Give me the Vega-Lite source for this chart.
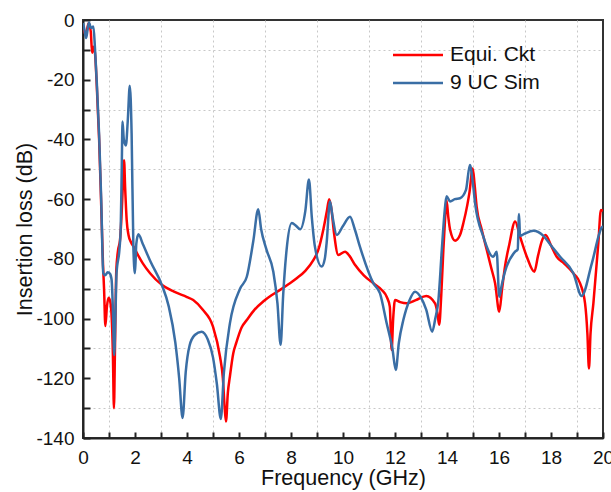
{
  "$schema": "https://vega.github.io/schema/vega-lite/v6.json",
  "width": 520,
  "height": 418,
  "autosize": {"type": "none"},
  "padding": {"left": 83, "top": 20, "right": 8, "bottom": 54},
  "background": "white",
  "config": {
    "font": "Liberation Sans",
    "view": {"stroke": "#333", "strokeWidth": 2},
    "axis": {
      "domainColor": "#222",
      "domainWidth": 2,
      "tickColor": "#222",
      "tickWidth": 2,
      "labelFontSize": 19,
      "labelColor": "#111",
      "labelFlush": false,
      "titleFontSize": 21.5,
      "titleFontWeight": "normal",
      "titleColor": "#111",
      "gridColor": "#c8c8c8",
      "gridDash": [2, 3],
      "gridWidth": 1
    }
  },
  "data": {
    "values": [
      {"s": "Equi. Ckt", "f": 0.0, "dB": -2},
      {"s": "Equi. Ckt", "f": 0.1, "dB": -5},
      {"s": "Equi. Ckt", "f": 0.22, "dB": -1},
      {"s": "Equi. Ckt", "f": 0.3, "dB": -4},
      {"s": "Equi. Ckt", "f": 0.35, "dB": -11},
      {"s": "Equi. Ckt", "f": 0.4, "dB": -9},
      {"s": "Equi. Ckt", "f": 0.46, "dB": -11},
      {"s": "Equi. Ckt", "f": 0.53, "dB": -22},
      {"s": "Equi. Ckt", "f": 0.62, "dB": -40},
      {"s": "Equi. Ckt", "f": 0.7, "dB": -62},
      {"s": "Equi. Ckt", "f": 0.77, "dB": -82},
      {"s": "Equi. Ckt", "f": 0.81, "dB": -90},
      {"s": "Equi. Ckt", "f": 0.86, "dB": -102.5},
      {"s": "Equi. Ckt", "f": 0.92, "dB": -96},
      {"s": "Equi. Ckt", "f": 0.98, "dB": -93},
      {"s": "Equi. Ckt", "f": 1.04, "dB": -94},
      {"s": "Equi. Ckt", "f": 1.1, "dB": -99},
      {"s": "Equi. Ckt", "f": 1.15, "dB": -112},
      {"s": "Equi. Ckt", "f": 1.19, "dB": -130},
      {"s": "Equi. Ckt", "f": 1.23, "dB": -110},
      {"s": "Equi. Ckt", "f": 1.28, "dB": -84},
      {"s": "Equi. Ckt", "f": 1.35, "dB": -77},
      {"s": "Equi. Ckt", "f": 1.42, "dB": -74},
      {"s": "Equi. Ckt", "f": 1.48, "dB": -66},
      {"s": "Equi. Ckt", "f": 1.53, "dB": -56},
      {"s": "Equi. Ckt", "f": 1.58, "dB": -47},
      {"s": "Equi. Ckt", "f": 1.62, "dB": -56},
      {"s": "Equi. Ckt", "f": 1.68, "dB": -67},
      {"s": "Equi. Ckt", "f": 1.75, "dB": -72},
      {"s": "Equi. Ckt", "f": 1.85, "dB": -74.5},
      {"s": "Equi. Ckt", "f": 1.95, "dB": -76},
      {"s": "Equi. Ckt", "f": 2.1, "dB": -78.5},
      {"s": "Equi. Ckt", "f": 2.3, "dB": -81.5},
      {"s": "Equi. Ckt", "f": 2.58, "dB": -84.8},
      {"s": "Equi. Ckt", "f": 3.03, "dB": -88.7},
      {"s": "Equi. Ckt", "f": 3.5, "dB": -91},
      {"s": "Equi. Ckt", "f": 4.0, "dB": -92.8},
      {"s": "Equi. Ckt", "f": 4.24, "dB": -93.8},
      {"s": "Equi. Ckt", "f": 4.6, "dB": -97},
      {"s": "Equi. Ckt", "f": 5.0, "dB": -102.7},
      {"s": "Equi. Ckt", "f": 5.27, "dB": -112.8},
      {"s": "Equi. Ckt", "f": 5.38, "dB": -120},
      {"s": "Equi. Ckt", "f": 5.45, "dB": -130},
      {"s": "Equi. Ckt", "f": 5.5, "dB": -134.5},
      {"s": "Equi. Ckt", "f": 5.57, "dB": -125},
      {"s": "Equi. Ckt", "f": 5.65, "dB": -119.4},
      {"s": "Equi. Ckt", "f": 5.78, "dB": -111.6},
      {"s": "Equi. Ckt", "f": 5.9, "dB": -108},
      {"s": "Equi. Ckt", "f": 6.1, "dB": -103},
      {"s": "Equi. Ckt", "f": 6.3, "dB": -100.5},
      {"s": "Equi. Ckt", "f": 6.6, "dB": -97},
      {"s": "Equi. Ckt", "f": 6.93, "dB": -94.3},
      {"s": "Equi. Ckt", "f": 7.25, "dB": -92.2},
      {"s": "Equi. Ckt", "f": 7.58, "dB": -90.4},
      {"s": "Equi. Ckt", "f": 7.9, "dB": -88.5},
      {"s": "Equi. Ckt", "f": 8.22, "dB": -86.5},
      {"s": "Equi. Ckt", "f": 8.55, "dB": -84},
      {"s": "Equi. Ckt", "f": 8.86, "dB": -80.4},
      {"s": "Equi. Ckt", "f": 9.05, "dB": -77},
      {"s": "Equi. Ckt", "f": 9.24, "dB": -70.3},
      {"s": "Equi. Ckt", "f": 9.38, "dB": -64},
      {"s": "Equi. Ckt", "f": 9.47, "dB": -60},
      {"s": "Equi. Ckt", "f": 9.55, "dB": -63},
      {"s": "Equi. Ckt", "f": 9.65, "dB": -71},
      {"s": "Equi. Ckt", "f": 9.82, "dB": -78.7},
      {"s": "Equi. Ckt", "f": 10.08, "dB": -77.6},
      {"s": "Equi. Ckt", "f": 10.25, "dB": -79},
      {"s": "Equi. Ckt", "f": 10.46, "dB": -82},
      {"s": "Equi. Ckt", "f": 10.8, "dB": -85.5},
      {"s": "Equi. Ckt", "f": 11.17, "dB": -88.2},
      {"s": "Equi. Ckt", "f": 11.5, "dB": -90.5},
      {"s": "Equi. Ckt", "f": 11.68, "dB": -92.7},
      {"s": "Equi. Ckt", "f": 11.8, "dB": -96},
      {"s": "Equi. Ckt", "f": 11.87, "dB": -110.5},
      {"s": "Equi. Ckt", "f": 11.93, "dB": -100},
      {"s": "Equi. Ckt", "f": 12.0, "dB": -93.8},
      {"s": "Equi. Ckt", "f": 12.2, "dB": -94.5},
      {"s": "Equi. Ckt", "f": 12.45, "dB": -94.9},
      {"s": "Equi. Ckt", "f": 12.8, "dB": -93.8},
      {"s": "Equi. Ckt", "f": 13.2, "dB": -92.4},
      {"s": "Equi. Ckt", "f": 13.54, "dB": -94.9},
      {"s": "Equi. Ckt", "f": 13.63, "dB": -98},
      {"s": "Equi. Ckt", "f": 13.7, "dB": -102.1},
      {"s": "Equi. Ckt", "f": 13.78, "dB": -92},
      {"s": "Equi. Ckt", "f": 13.86, "dB": -77},
      {"s": "Equi. Ckt", "f": 13.93, "dB": -66},
      {"s": "Equi. Ckt", "f": 13.98, "dB": -60.3},
      {"s": "Equi. Ckt", "f": 14.05, "dB": -66},
      {"s": "Equi. Ckt", "f": 14.12, "dB": -70.3},
      {"s": "Equi. Ckt", "f": 14.31, "dB": -73.9},
      {"s": "Equi. Ckt", "f": 14.5, "dB": -72},
      {"s": "Equi. Ckt", "f": 14.63, "dB": -68},
      {"s": "Equi. Ckt", "f": 14.78, "dB": -62},
      {"s": "Equi. Ckt", "f": 14.86, "dB": -58},
      {"s": "Equi. Ckt", "f": 14.99, "dB": -49.7},
      {"s": "Equi. Ckt", "f": 15.06, "dB": -55},
      {"s": "Equi. Ckt", "f": 15.14, "dB": -62.5},
      {"s": "Equi. Ckt", "f": 15.33, "dB": -70},
      {"s": "Equi. Ckt", "f": 15.53, "dB": -77},
      {"s": "Equi. Ckt", "f": 15.7, "dB": -83},
      {"s": "Equi. Ckt", "f": 15.85, "dB": -88.2},
      {"s": "Equi. Ckt", "f": 16.01, "dB": -97.7},
      {"s": "Equi. Ckt", "f": 16.12, "dB": -90},
      {"s": "Equi. Ckt", "f": 16.23, "dB": -82.6},
      {"s": "Equi. Ckt", "f": 16.4, "dB": -75},
      {"s": "Equi. Ckt", "f": 16.62, "dB": -67.5},
      {"s": "Equi. Ckt", "f": 16.81, "dB": -72.6},
      {"s": "Equi. Ckt", "f": 17.07, "dB": -79.3},
      {"s": "Equi. Ckt", "f": 17.36, "dB": -84.3},
      {"s": "Equi. Ckt", "f": 17.5, "dB": -79},
      {"s": "Equi. Ckt", "f": 17.64, "dB": -74.2},
      {"s": "Equi. Ckt", "f": 17.79, "dB": -72},
      {"s": "Equi. Ckt", "f": 18.0, "dB": -75.5},
      {"s": "Equi. Ckt", "f": 18.22, "dB": -79.3},
      {"s": "Equi. Ckt", "f": 18.5, "dB": -81.5},
      {"s": "Equi. Ckt", "f": 18.86, "dB": -84.8},
      {"s": "Equi. Ckt", "f": 19.12, "dB": -88.2},
      {"s": "Equi. Ckt", "f": 19.31, "dB": -94.9},
      {"s": "Equi. Ckt", "f": 19.4, "dB": -105},
      {"s": "Equi. Ckt", "f": 19.46, "dB": -116.7},
      {"s": "Equi. Ckt", "f": 19.52, "dB": -105},
      {"s": "Equi. Ckt", "f": 19.63, "dB": -94.9},
      {"s": "Equi. Ckt", "f": 19.82, "dB": -74.8},
      {"s": "Equi. Ckt", "f": 19.92, "dB": -63.6},
      {"s": "Equi. Ckt", "f": 20.0, "dB": -64},

      {"s": "9 UC Sim", "f": 0.0, "dB": -1},
      {"s": "9 UC Sim", "f": 0.05, "dB": -3},
      {"s": "9 UC Sim", "f": 0.12, "dB": -6},
      {"s": "9 UC Sim", "f": 0.18, "dB": -3},
      {"s": "9 UC Sim", "f": 0.23, "dB": -0.8},
      {"s": "9 UC Sim", "f": 0.31, "dB": -2.7},
      {"s": "9 UC Sim", "f": 0.4, "dB": -2.2},
      {"s": "9 UC Sim", "f": 0.46, "dB": -9.4},
      {"s": "9 UC Sim", "f": 0.53, "dB": -20.8},
      {"s": "9 UC Sim", "f": 0.62, "dB": -38.5},
      {"s": "9 UC Sim", "f": 0.7, "dB": -60},
      {"s": "9 UC Sim", "f": 0.78, "dB": -84.8},
      {"s": "9 UC Sim", "f": 0.85, "dB": -85.5},
      {"s": "9 UC Sim", "f": 0.95, "dB": -84.5},
      {"s": "9 UC Sim", "f": 1.04, "dB": -85},
      {"s": "9 UC Sim", "f": 1.1, "dB": -87},
      {"s": "9 UC Sim", "f": 1.15, "dB": -97},
      {"s": "9 UC Sim", "f": 1.2, "dB": -112.2},
      {"s": "9 UC Sim", "f": 1.25, "dB": -98},
      {"s": "9 UC Sim", "f": 1.29, "dB": -84.8},
      {"s": "9 UC Sim", "f": 1.4, "dB": -77},
      {"s": "9 UC Sim", "f": 1.45, "dB": -70},
      {"s": "9 UC Sim", "f": 1.49, "dB": -50},
      {"s": "9 UC Sim", "f": 1.52, "dB": -34},
      {"s": "9 UC Sim", "f": 1.57, "dB": -40},
      {"s": "9 UC Sim", "f": 1.65, "dB": -42},
      {"s": "9 UC Sim", "f": 1.72, "dB": -34},
      {"s": "9 UC Sim", "f": 1.8, "dB": -22},
      {"s": "9 UC Sim", "f": 1.87, "dB": -38},
      {"s": "9 UC Sim", "f": 1.94, "dB": -77},
      {"s": "9 UC Sim", "f": 2.0, "dB": -84.8},
      {"s": "9 UC Sim", "f": 2.05, "dB": -75},
      {"s": "9 UC Sim", "f": 2.13, "dB": -71.8},
      {"s": "9 UC Sim", "f": 2.3, "dB": -75},
      {"s": "9 UC Sim", "f": 2.6, "dB": -81},
      {"s": "9 UC Sim", "f": 3.03, "dB": -88.7},
      {"s": "9 UC Sim", "f": 3.3, "dB": -96},
      {"s": "9 UC Sim", "f": 3.55, "dB": -108},
      {"s": "9 UC Sim", "f": 3.7, "dB": -120},
      {"s": "9 UC Sim", "f": 3.83, "dB": -133.3},
      {"s": "9 UC Sim", "f": 3.95, "dB": -118},
      {"s": "9 UC Sim", "f": 4.1, "dB": -109},
      {"s": "9 UC Sim", "f": 4.3, "dB": -105.5},
      {"s": "9 UC Sim", "f": 4.56, "dB": -104.4},
      {"s": "9 UC Sim", "f": 4.8, "dB": -107},
      {"s": "9 UC Sim", "f": 5.0, "dB": -113},
      {"s": "9 UC Sim", "f": 5.15, "dB": -122},
      {"s": "9 UC Sim", "f": 5.3, "dB": -133.6},
      {"s": "9 UC Sim", "f": 5.42, "dB": -118},
      {"s": "9 UC Sim", "f": 5.65, "dB": -101.6},
      {"s": "9 UC Sim", "f": 6.04, "dB": -90},
      {"s": "9 UC Sim", "f": 6.3, "dB": -86},
      {"s": "9 UC Sim", "f": 6.55, "dB": -74},
      {"s": "9 UC Sim", "f": 6.74, "dB": -63.4},
      {"s": "9 UC Sim", "f": 6.85, "dB": -70},
      {"s": "9 UC Sim", "f": 7.06, "dB": -77},
      {"s": "9 UC Sim", "f": 7.32, "dB": -84.3},
      {"s": "9 UC Sim", "f": 7.48, "dB": -95},
      {"s": "9 UC Sim", "f": 7.6, "dB": -108.8},
      {"s": "9 UC Sim", "f": 7.7, "dB": -92},
      {"s": "9 UC Sim", "f": 7.83, "dB": -77},
      {"s": "9 UC Sim", "f": 8.03, "dB": -68},
      {"s": "9 UC Sim", "f": 8.2, "dB": -69},
      {"s": "9 UC Sim", "f": 8.35, "dB": -70.1},
      {"s": "9 UC Sim", "f": 8.55, "dB": -64},
      {"s": "9 UC Sim", "f": 8.69, "dB": -53.4},
      {"s": "9 UC Sim", "f": 8.8, "dB": -66},
      {"s": "9 UC Sim", "f": 8.92, "dB": -75.9},
      {"s": "9 UC Sim", "f": 9.18, "dB": -82.6},
      {"s": "9 UC Sim", "f": 9.3, "dB": -80},
      {"s": "9 UC Sim", "f": 9.37, "dB": -74.7},
      {"s": "9 UC Sim", "f": 9.5, "dB": -60.8},
      {"s": "9 UC Sim", "f": 9.6, "dB": -66},
      {"s": "9 UC Sim", "f": 9.76, "dB": -72},
      {"s": "9 UC Sim", "f": 10.0, "dB": -69},
      {"s": "9 UC Sim", "f": 10.27, "dB": -65.9},
      {"s": "9 UC Sim", "f": 10.45, "dB": -70},
      {"s": "9 UC Sim", "f": 10.65, "dB": -75.9},
      {"s": "9 UC Sim", "f": 11.17, "dB": -88.2},
      {"s": "9 UC Sim", "f": 11.42, "dB": -91.5},
      {"s": "9 UC Sim", "f": 11.68, "dB": -101.6},
      {"s": "9 UC Sim", "f": 11.9, "dB": -110},
      {"s": "9 UC Sim", "f": 12.03, "dB": -117.2},
      {"s": "9 UC Sim", "f": 12.15, "dB": -108},
      {"s": "9 UC Sim", "f": 12.32, "dB": -100.5},
      {"s": "9 UC Sim", "f": 12.55, "dB": -94},
      {"s": "9 UC Sim", "f": 12.77, "dB": -91},
      {"s": "9 UC Sim", "f": 13.0, "dB": -93},
      {"s": "9 UC Sim", "f": 13.2, "dB": -97},
      {"s": "9 UC Sim", "f": 13.43, "dB": -104.4},
      {"s": "9 UC Sim", "f": 13.55, "dB": -100},
      {"s": "9 UC Sim", "f": 13.67, "dB": -93.8},
      {"s": "9 UC Sim", "f": 13.8, "dB": -77},
      {"s": "9 UC Sim", "f": 13.9, "dB": -65},
      {"s": "9 UC Sim", "f": 13.98, "dB": -59},
      {"s": "9 UC Sim", "f": 14.12, "dB": -60.8},
      {"s": "9 UC Sim", "f": 14.3, "dB": -60},
      {"s": "9 UC Sim", "f": 14.5, "dB": -59.7},
      {"s": "9 UC Sim", "f": 14.73, "dB": -56.9},
      {"s": "9 UC Sim", "f": 14.88, "dB": -48.6},
      {"s": "9 UC Sim", "f": 15.0, "dB": -55},
      {"s": "9 UC Sim", "f": 15.08, "dB": -61.3},
      {"s": "9 UC Sim", "f": 15.4, "dB": -72.6},
      {"s": "9 UC Sim", "f": 15.78, "dB": -79.3},
      {"s": "9 UC Sim", "f": 15.91, "dB": -77.6},
      {"s": "9 UC Sim", "f": 16.01, "dB": -92.7},
      {"s": "9 UC Sim", "f": 16.1, "dB": -89},
      {"s": "9 UC Sim", "f": 16.23, "dB": -84.3},
      {"s": "9 UC Sim", "f": 16.62, "dB": -77.6},
      {"s": "9 UC Sim", "f": 16.72, "dB": -76.8},
      {"s": "9 UC Sim", "f": 16.77, "dB": -65},
      {"s": "9 UC Sim", "f": 16.81, "dB": -72.3},
      {"s": "9 UC Sim", "f": 17.0, "dB": -71.5},
      {"s": "9 UC Sim", "f": 17.32, "dB": -70.6},
      {"s": "9 UC Sim", "f": 17.71, "dB": -72.3},
      {"s": "9 UC Sim", "f": 18.0, "dB": -75.5},
      {"s": "9 UC Sim", "f": 18.35, "dB": -79.3},
      {"s": "9 UC Sim", "f": 18.86, "dB": -84.8},
      {"s": "9 UC Sim", "f": 19.18, "dB": -92.4},
      {"s": "9 UC Sim", "f": 19.57, "dB": -81.5},
      {"s": "9 UC Sim", "f": 19.95, "dB": -69.5},
      {"s": "9 UC Sim", "f": 20.0, "dB": -69}
    ]
  },
  "mark": {"type": "line", "strokeWidth": 2.5, "interpolate": "monotone", "clip": true},
  "encoding": {
    "x": {
      "field": "f",
      "type": "quantitative",
      "scale": {"domain": [0, 20], "nice": false, "zero": false},
      "axis": {
        "title": "Frequency (GHz)",
        "values": [0,1,2,3,4,5,6,7,8,9,10,11,12,13,14,15,16,17,18,19,20],
        "labelExpr": "datum.value % 2 === 0 ? datum.label : ''",
        "tickSize": -6,
        "labelPadding": 16,
        "titlePadding": 0,
        "gridOpacity": {"condition": {"test": "datum.value % 2 === 1", "value": 1}, "value": 0}
      }
    },
    "y": {
      "field": "dB",
      "type": "quantitative",
      "scale": {"domain": [-140, 0], "nice": false, "zero": false},
      "axis": {
        "title": "Insertion loss (dB)",
        "values": [-140,-130,-120,-110,-100,-90,-80,-70,-60,-50,-40,-30,-20,-10,0],
        "labelExpr": "datum.value % 20 === 0 ? '' + datum.value : ''",
        "tickSize": -7,
        "labelPadding": 16,
        "titlePadding": -1,
        "gridOpacity": {"condition": {"test": "abs(datum.value) % 20 === 10", "value": 1}, "value": 0}
      }
    },
    "color": {
      "field": "s",
      "type": "nominal",
      "scale": {"domain": ["Equi. Ckt", "9 UC Sim"], "range": ["#ff0000", "#3a6ea5"]},
      "legend": {
        "title": null,
        "orient": "none",
        "legendX": 321,
        "legendY": 21,
        "symbolType": "M-2,0H2",
        "symbolSize": 625,
        "symbolStrokeWidth": 2.5,
        "labelFontSize": 21,
        "labelColor": "#111",
        "labelOffset": 18,
        "rowPadding": 4
      }
    }
  }
}
